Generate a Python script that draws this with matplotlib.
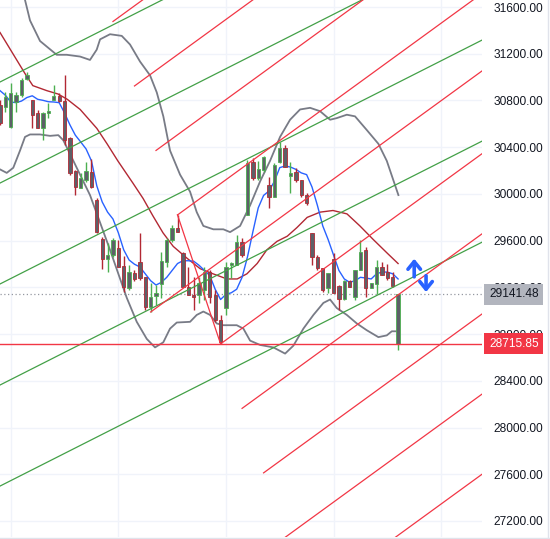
import matplotlib
matplotlib.use("Agg")
import matplotlib.pyplot as plt
from matplotlib.lines import Line2D
import numpy as np

plt.rcParams['font.family'] = ['Liberation Sans', 'DejaVu Sans']

# ---------------- data ----------------
opens = [30761, 30744, 30573, 30787, 30847, 30984, 30804, 30693, 30564, 30693,
         30804, 30838, 30795, 30479, 30196, 30051, 30119, 30188, 29948, 29614,
         29443, 29477, 29537, 29383, 29195, 29323, 29417, 29289, 29032, 29126,
         29229, 29417, 29606, 29708, 29494, 29203, 29135, 29135, 29178, 29332,
         29135, 28921, 29024, 29392, 29392, 29588, 29820, 30273, 30136, 30205,
         30076, 29974, 30273, 30393, 30153, 30188, 30119, 29991, 29666, 29460,
         29366, 29195, 29443, 29212, 29101, 29255, 29118, 29349, 29520, 29195,
         29229, 29374, 29332, 29289, 28716]
highs = [30804, 30872, 30950, 30872, 30992, 31044, 30804, 30718, 30701, 30778,
         30932, 30864, 31018, 30487, 30205, 30179, 30273, 30299, 29965, 29631,
         29580, 29623, 29606, 29469, 29392, 29349, 29666, 29289, 29237, 29220,
         29503, 29623, 29734, 29820, 29503, 29374, 29289, 29289, 29374, 29349,
         29178, 28964, 29417, 29417, 29648, 29623, 30290, 30308, 30282, 30325,
         30145, 30265, 30444, 30419, 30273, 30222, 30119, 30008, 29666, 29477,
         29366, 29323, 29494, 29220, 29263, 29263, 29349, 29606, 29546, 29237,
         29434, 29417, 29400, 29332, 29143]
lows = [30590, 30701, 30564, 30701, 30830, 30975, 30564, 30564, 30462, 30650,
        30804, 30787, 30419, 30162, 29991, 30051, 30102, 30051, 29666, 29357,
        29332, 29460, 29374, 29160, 29178, 29255, 29263, 29006, 28989, 29049,
        29109, 29374, 29588, 29674, 29203, 29135, 29006, 29066, 29092, 29066,
        28904, 28716, 28964, 29280, 29392, 29460, 29820, 30119, 30119, 30188,
        29880, 29974, 30265, 30230, 30008, 30102, 29974, 29905, 29392, 29349,
        29160, 29152, 29152, 29006, 29092, 29203, 29092, 29349, 29118, 29195,
        29143, 29306, 29263, 29203, 28664]
closes = [30607, 30830, 30864, 30847, 30975, 31018, 30676, 30564, 30693, 30710,
          30838, 30795, 30462, 30179, 30059, 30136, 30196, 30059, 29674, 29443,
          29477, 29606, 29374, 29203, 29332, 29272, 29280, 29032, 29118, 29152,
          29426, 29606, 29708, 29674, 29203, 29135, 29118, 29237, 29332, 29118,
          28921, 28730, 29374, 29409, 29588, 29477, 30265, 30136, 30213, 30316,
          29974, 30248, 30393, 30230, 30179, 30119, 29991, 29922, 29460, 29366,
          29178, 29323, 29152, 29101, 29255, 29203, 29349, 29503, 29195, 29237,
          29374, 29306, 29280, 29212, 29141.48]

fast_ma = [30884, 30845, 30787, 30781, 30795, 30825, 30840, 30810, 30801, 30789,
           30787, 30781, 30693, 30591, 30503, 30445, 30385, 30283, 30068, 29931,
           29844, 29785, 29667, 29521, 29434, 29398, 29375, 29316, 29257, 29220,
           29243, 29286, 29345, 29404, 29428, 29428, 29424, 29389, 29345, 29301,
           29184, 29096, 29140, 29154, 29184, 29286, 29460, 29674, 29880, 29987,
           30025, 30107, 30225, 30239, 30230, 30210, 30180, 30165, 30059, 29902,
           29726, 29609, 29477, 29345, 29272, 29243, 29257, 29286, 29280, 29272,
           29316, 29331, 29331, 29316, 29272]

slow_ma_x = [0, 4.65, 6.1, 8.7, 10.8, 12.5, 14.9, 18.0, 19.9, 21.9, 24.7, 26.6,
             28.4, 30.3, 32.2, 34.8, 37.2, 39.6, 42.2, 44.1, 45.9, 47.8, 49.6,
             51.5, 53.4, 55.2, 57.1, 59.5, 61.9, 64.5, 66.9, 69.4, 72.0, 74.0]
slow_ma_y = [31382, 31030, 30927, 30884, 30855, 30810, 30723, 30561, 30429, 30283,
             30093, 29961, 29814, 29667, 29551, 29448, 29360, 29316, 29272, 29272,
             29316, 29404, 29521, 29594, 29638, 29712, 29799, 29844, 29858, 29829,
             29726, 29609, 29492, 29404]

upper_x = [4.65, 5.58, 7.44, 10.54, 12.4, 14.88, 16.73, 17.98, 18.6, 20.45, 22.63,
           24.17, 26.03, 27.89, 29.14, 30.36, 31.61, 33.47, 35.33, 36.57, 37.8,
           39.66, 41.52, 42.77, 44.63, 46.49, 48.35, 50.2, 52.06, 53.92, 55.78,
           57.64, 59.5, 61.36, 62.6, 64.47, 66.0, 68.2, 70.34, 71.9, 74.06]
upper_y = [31660, 31485, 31309, 31191, 31191, 31176, 31147, 31235, 31323, 31367,
           31353, 31279, 31133, 31015, 30869, 30664, 30371, 30165, 30019, 29844,
           29726, 29697, 29697, 29673, 29726, 29902, 30107, 30283, 30488, 30635,
           30723, 30737, 30708, 30635, 30649, 30678, 30664, 30546, 30429, 30283,
           29990]

lower_x = [0, 1.25, 2.47, 3.72, 4.65, 5.58, 7.44, 9.3, 10.84, 11.77, 13.02, 14.88,
           16.73, 18.6, 20.45, 22.0, 23.56, 25.42, 27.28, 28.82, 30.36, 31.61,
           32.86, 35.33, 36.57, 37.8, 39.05, 40.29, 41.52, 44.01, 45.24, 46.49,
           48.35, 50.82, 53.0, 54.54, 56.4, 58.26, 60.12, 61.36, 62.6, 64.47,
           66.33, 68.18, 70.34, 71.9, 72.83, 74.06]
lower_y = [30210, 30180, 30224, 30371, 30488, 30509, 30509, 30497, 30503, 30459,
           30342, 30165, 29990, 29755, 29521, 29316, 29111, 28905, 28759, 28686,
           28730, 28847, 28899, 28905, 28964, 28993, 28964, 28891, 28876, 28876,
           28847, 28744, 28707, 28686, 28633, 28701, 28847, 28964, 29067, 29096,
           29023, 28964, 28891, 28833, 28774, 28789, 28824, 28824]

# pitchfork anchors (candle index, price)
pf_a = (28, 28989)
pf_b = (33, 29820)
pf_c = (41, 28716)
pf_slope = 33.5            # price per candle
pf_levels = [-3, -2, -1, 0, 2, 3, 4, 5, 6]

# parallel green channel lines: price at candle 0 and slope
green_base = [30958, 30093, 29229, 28364, 27499]
green_slope = 23.3

yticks = [27200, 27600, 28000, 28400, 28800, 29200, 29600, 30000, 30400,
          30800, 31200, 31600]
last_price = 29141.48
level_price = 28715.85
arrow_up = ((77.0, 29290), (77.0, 29445))
arrow_down = ((79.2, 29300), (79.2, 29160))

# ---------------- styling ----------------
UP = '#4caf50'
DN = '#b22833'
BODY = '#5d6068'
FAN_RED = '#f23645'
FAN_GREEN = '#43a047'
GRID = '#f0f3fa'

fig = plt.figure(figsize=(5.5, 5.39), dpi=100)
fig.patch.set_facecolor('white')
ax = fig.add_axes([0, 2 / 539, 482 / 550, 537 / 539])
ax.set_facecolor('white')

x_lo, x_hi = 0, 89.6
y_lo, y_hi = 27063, 31660
ax.set_xlim(x_lo, x_hi)
ax.set_ylim(y_lo, y_hi)

# grid
for t in yticks:
    ax.axhline(t, color=GRID, lw=1, zorder=0)
for gx in [2, 22, 42, 62, 82]:
    ax.axvline(gx, color=GRID, lw=1, zorder=0)

# bands & MAs
ax.plot(upper_x, upper_y, color='#787b86', lw=1.3, zorder=3)
ax.plot(lower_x, lower_y, color='#787b86', lw=1.3, zorder=3)
ax.plot(slow_ma_x, slow_ma_y, color='#b22833', lw=1.0, zorder=3)
ax.plot(range(len(fast_ma)), fast_ma, color='#2962ff', lw=1.0, zorder=4)

# candles
for i, (o, h, l, c) in enumerate(zip(opens, highs, lows, closes)):
    col = UP if c >= o else DN
    ax.vlines(i, l, h, color=col, lw=1.0, zorder=5)
    bot = min(o, c)
    hgt = max(abs(c - o), 12)
    ax.bar(i, hgt, bottom=bot, width=0.62, color=BODY, edgecolor=col,
           linewidth=0.6, zorder=6)

# green parallel lines
xs = np.array([-10, 100])
for b in green_base:
    ax.plot(xs, b + green_slope * xs, color=FAN_GREEN, lw=0.9, zorder=7)

# pitchfork
half = ((pf_c[0] - pf_b[0]) / 2, (pf_c[1] - pf_b[1]) / 2)
x_end = 100
for k in pf_levels:
    sx = pf_b[0] + k * half[0]
    sy = pf_b[1] + k * half[1]
    ax.plot([sx, x_end], [sy, sy + pf_slope * (x_end - sx)], color=FAN_RED,
            lw=0.9, zorder=7)
ax.plot([pf_a[0], x_end], [pf_a[1], pf_a[1] + pf_slope * (x_end - pf_a[0])],
        color=FAN_RED, lw=0.9, zorder=7)
ax.plot([pf_b[0], pf_c[0]], [pf_b[1], pf_c[1]], color=FAN_RED, lw=0.9, zorder=7)

# horizontal level and current price
ax.axhline(level_price, color=FAN_RED, lw=1.0, zorder=7)
ax.axhline(last_price, color='#9598a1', lw=0.9, ls=(0, (1, 2)), zorder=2)

# arrows
for tail, tip in (arrow_up, arrow_down):
    ax.annotate('', xy=tip, xytext=tail,
                arrowprops=dict(arrowstyle='->,head_length=0.55,head_width=0.45',
                                color='#2962ff', lw=2.6,
                                shrinkA=0, shrinkB=0), zorder=8)

# axis
for s in ax.spines.values():
    s.set_visible(False)
ax.set_xticks([])
ax.yaxis.tick_right()
ax.set_yticks(yticks)
ax.set_yticklabels([f'{t:.2f}' for t in yticks])
ax.tick_params(axis='y', length=0, pad=8, labelsize=8.6, labelcolor='#131722')

# price labels
trans = ax.get_yaxis_transform()
ax.annotate(f'{last_price:.2f}', xy=(1.0, last_price), xycoords=trans,
            xytext=(5, 0), textcoords='offset points', ha='left', va='center',
            fontsize=8.6, color='#131722', annotation_clip=False, zorder=20,
            bbox=dict(boxstyle='square,pad=0.38', fc='#b2b5be', ec='none'))
ax.annotate(f'{level_price:.2f}', xy=(1.0, level_price), xycoords=trans,
            xytext=(5, 0), textcoords='offset points', ha='left', va='center',
            fontsize=8.6, color='white', annotation_clip=False, zorder=20,
            bbox=dict(boxstyle='square,pad=0.38', fc='#f23645', ec='none'))

# outer border lines
fig.add_artist(Line2D([548 / 550, 548 / 550], [0, 1], color='#e0e3eb', lw=1))
fig.add_artist(Line2D([0, 1], [1.5 / 539, 1.5 / 539], color='#e0e3eb', lw=1))

fig.savefig('out.png', dpi=100)
